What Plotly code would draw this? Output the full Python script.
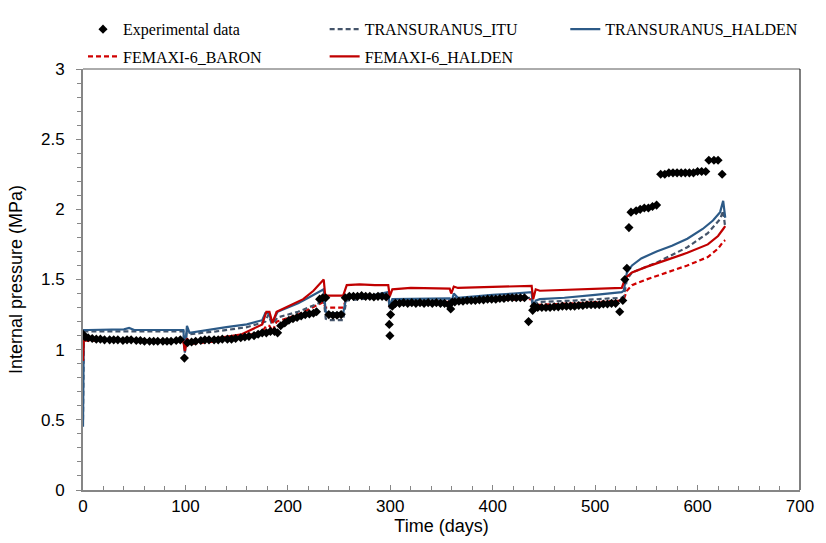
import plotly.graph_objects as go

# ---------------- data ----------------
exp_days = [0, 2, 5, 9, 13, 17, 21, 26, 30, 34, 39, 43, 47, 52, 56, 60, 65, 69, 73, 78, 82, 86, 91, 95,
            99, 102, 106, 110, 115, 119, 123, 128, 132, 136, 141, 145, 149, 154, 158, 162, 167, 171, 175,
            179, 183, 187, 190, 193, 197, 201, 205, 209, 213, 217, 221, 225, 228, 231, 234, 237, 240, 244,
            248, 252, 256, 260, 264, 268, 272, 276, 280, 284, 288, 292, 296, 299, 299.6, 300.3, 302,
            305, 309, 313, 317, 321, 325, 329, 333, 337, 341, 345, 349, 353, 357, 359, 360.5,
            363, 367, 371, 375, 379, 383, 387, 391, 395, 399, 403, 407, 411, 415, 419, 423, 427, 431, 435,
            439, 440.3, 441.5, 444, 448, 452, 456, 460, 464, 468, 472, 476, 480, 484, 488, 492, 496, 500,
            504, 508, 512, 516, 520, 524, 527, 529, 531, 533, 535,
            540, 544, 548, 552, 556, 560, 564,
            568, 572, 576, 580, 584, 588, 592, 596, 600, 604, 608, 611,
            616, 620, 624, 627]
exp_vals = [1.11, 1.09, 1.085, 1.08, 1.075, 1.075, 1.07, 1.07, 1.07, 1.07, 1.065, 1.07, 1.07, 1.065, 1.065,
            1.06, 1.06, 1.06, 1.06, 1.06, 1.06, 1.06, 1.065, 1.07,
            0.94, 1.05, 1.055, 1.06, 1.065, 1.07, 1.07, 1.07, 1.07, 1.075, 1.075, 1.075, 1.08, 1.085, 1.09,
            1.095, 1.10, 1.11, 1.12,
            1.12, 1.13, 1.13, 1.12, 1.17, 1.19, 1.21, 1.22, 1.23, 1.24, 1.25, 1.255, 1.26, 1.27, 1.36, 1.37,
            1.37, 1.25, 1.245,
            1.245, 1.25, 1.37, 1.38, 1.38, 1.38, 1.385, 1.38, 1.38, 1.375, 1.38, 1.38, 1.375, 1.18, 1.10,
            1.25, 1.31,
            1.33, 1.33, 1.335, 1.33, 1.335, 1.33, 1.335, 1.33, 1.335, 1.33, 1.335, 1.33, 1.33, 1.32, 1.29,
            1.34, 1.34, 1.345, 1.345, 1.35, 1.35, 1.35, 1.355, 1.355, 1.36, 1.36, 1.36, 1.365, 1.365, 1.37,
            1.37, 1.37, 1.37, 1.37,
            1.20, 1.28, 1.31, 1.30, 1.30, 1.30, 1.30, 1.30, 1.305, 1.305, 1.31, 1.31, 1.31, 1.31, 1.315,
            1.315, 1.32, 1.32,
            1.32, 1.32, 1.325, 1.325, 1.33, 1.33, 1.27, 1.35, 1.50, 1.58, 1.87,
            1.98, 1.99, 2.00, 2.01, 2.01, 2.02, 2.03,
            2.25, 2.25, 2.26, 2.26, 2.26, 2.26, 2.26, 2.26, 2.26, 2.27, 2.27, 2.27,
            2.35, 2.35, 2.35, 2.25]

itu_days = [0, 0.8, 20, 50, 95, 98, 99.5, 101.5, 104, 130, 160, 178, 181, 184, 186, 190, 210, 230, 235,
            237, 240, 254, 257, 270, 298, 299.5, 302, 330, 358, 359.5, 362, 366, 400, 438, 439.5, 442,
            446, 480, 526, 528, 531, 536, 560, 590, 610, 622, 625, 627]
itu_vals = [0.5, 1.13, 1.13, 1.13, 1.13, 1.13, 0.98, 1.15, 1.11, 1.13, 1.16, 1.20, 1.25, 1.19, 1.19, 1.23,
            1.27, 1.33, 1.36, 1.22, 1.21, 1.21, 1.35, 1.36, 1.38, 1.29, 1.345, 1.35, 1.35, 1.32, 1.38,
            1.35, 1.36, 1.37, 1.28, 1.33, 1.34, 1.35, 1.37, 1.38, 1.50, 1.55, 1.62, 1.73, 1.83, 1.93,
            1.99, 1.87]

tuh_days = [0, 0.8, 5, 20, 40, 45, 50, 70, 95, 98, 99.5, 101.5, 104, 120, 140, 160, 175, 178, 181, 184,
            186, 190, 200, 210, 220, 230, 235, 237, 240, 250, 254, 257, 270, 285, 298, 299.5, 302, 320,
            340, 358, 359.5, 362, 366, 380, 400, 420, 438, 439.5, 442, 446, 470, 500, 526, 528, 531, 536,
            545, 560, 575, 590, 605, 615, 622, 625, 627]
tuh_vals = [0.45, 1.14, 1.14, 1.14, 1.145, 1.155, 1.14, 1.14, 1.14, 1.14, 0.98, 1.17, 1.12, 1.14, 1.16,
            1.18, 1.21, 1.26, 1.26, 1.21, 1.21, 1.27, 1.30, 1.33, 1.37, 1.41, 1.43, 1.27, 1.26, 1.26,
            1.26, 1.37, 1.38, 1.39, 1.41, 1.30, 1.36, 1.36, 1.36, 1.365, 1.33, 1.40, 1.37, 1.38, 1.39,
            1.40, 1.41, 1.30, 1.35, 1.36, 1.37, 1.39, 1.41, 1.42, 1.55, 1.60, 1.65, 1.70, 1.74, 1.79,
            1.86, 1.92, 1.98, 2.06, 1.94]

fbaron_days = [0, 0.8, 30, 60, 95, 98, 99.5, 101.5, 104, 130, 155, 175, 179, 182, 185, 189, 210, 235,
               236.5, 240, 254, 257.5, 280, 298, 299.5, 302, 330, 358, 359.5, 362, 366, 400, 438, 439.5,
               442, 446, 480, 526, 528, 531, 536, 550, 570, 590, 610, 620, 625, 627]
fbaron_vals = [0.9, 1.065, 1.065, 1.06, 1.06, 1.06, 0.99, 1.07, 1.04, 1.06, 1.09, 1.13, 1.17, 1.17, 1.13,
               1.20, 1.25, 1.34, 1.30, 1.30, 1.30, 1.37, 1.375, 1.375, 1.30, 1.34, 1.34, 1.34, 1.32, 1.36,
               1.345, 1.35, 1.36, 1.27, 1.32, 1.32, 1.33, 1.35, 1.36, 1.42, 1.46, 1.50, 1.55, 1.60, 1.66,
               1.72, 1.77, 1.78, 1.76]

fhal_days = [0, 0.8, 5, 30, 60, 95, 98, 99.5, 101.5, 104, 130, 155, 175, 179, 182, 185, 189, 200, 215,
             225, 235, 236.5, 240, 254, 257.5, 270, 285, 298, 299.5, 302, 320, 340, 358, 359.5, 362, 366,
             400, 438, 439.5, 442, 446, 480, 526, 528, 531, 536, 550, 570, 590, 610, 620, 625, 627]
fhal_vals = [0.92, 1.07, 1.07, 1.07, 1.065, 1.065, 1.06, 0.99, 1.08, 1.05, 1.08, 1.11, 1.18, 1.27, 1.27,
             1.19, 1.27, 1.31, 1.36, 1.42, 1.50, 1.385, 1.385, 1.385, 1.46, 1.465, 1.46, 1.46, 1.38, 1.43,
             1.44, 1.435, 1.435, 1.40, 1.45, 1.44, 1.445, 1.455, 1.36, 1.43, 1.42, 1.43, 1.44, 1.48, 1.52,
             1.55, 1.59, 1.64, 1.69, 1.75, 1.81, 1.86, 1.88, 1.80]

x_ticks = [0, 100, 200, 300, 400, 500, 600, 700]
y_ticks = [0, 0.5, 1, 1.5, 2, 2.5, 3]
y_tick_text = ["0", "0.5", "1", "1.5", "2", "2.5", "3"]

# ---------------- figure ----------------
L, R, T, B = 83, 19, 56, 53
W, H = 826, 543
pw, ph = W - L - R, H - T - B

def px_x(p):
    return (p - L) / pw

def px_y(p):
    return 1 + (T - p) / ph

fig = go.Figure()

def add_line(x, y, name, color, dash, legend):
    fig.add_trace(go.Scatter(x=x, y=y, mode="lines", name=name, legend=legend,
                             line=dict(color=color, width=2.2, dash=dash)))

add_line(fbaron_days, fbaron_vals, "FEMAXI-6_BARON", "#d00000", "5px,3px", "legend2")
add_line(itu_days, itu_vals, "TRANSURANUS_ITU", "#44546a", "5px,3px", "legend3")
add_line(tuh_days, tuh_vals, "TRANSURANUS_HALDEN", "#2c5a87", "solid", "legend5")
add_line(fhal_days, fhal_vals, "FEMAXI-6_HALDEN", "#c00000", "solid", "legend4")
fig.add_trace(go.Scatter(x=exp_days, y=exp_vals, mode="markers", name="Experimental data",
                         legend="legend",
                         marker=dict(symbol="diamond", color="black", size=7)))

leg_font = dict(family="Liberation Serif, Times New Roman, serif", size=16, color="black")
row1, row2 = 15, 43

def leg(xpx, ypx):
    return dict(x=px_x(xpx), y=px_y(ypx), xanchor="left", yanchor="middle",
                bgcolor="rgba(0,0,0,0)", font=leg_font, borderwidth=0)

fig.update_layout(
    width=W, height=H,
    margin=dict(l=L, r=R, t=T, b=B),
    paper_bgcolor="white", plot_bgcolor="white",
    font=dict(family="Liberation Sans, Arial, sans-serif", size=17, color="black"),
    legend=leg(83, row1),
    legend2=leg(83, row2),
    legend3=leg(327, row1),
    legend4=leg(327, row2),
    legend5=leg(570, row1),
    xaxis=dict(range=[0, 700], tickvals=x_ticks, showgrid=False, zeroline=False,
               showline=True, linecolor="#868686", linewidth=2,
               ticks="inside", ticklen=5, tickcolor="#868686", tickwidth=1,
               minor=dict(dtick=20, ticks="inside", ticklen=4, tickcolor="#868686"),
               title=dict(text="Time (days)", standoff=0,
                          font=dict(family="Liberation Sans, Arial, sans-serif", size=18)),
               tickfont=dict(size=17)),
    yaxis=dict(range=[0, 3], tickvals=y_ticks, ticktext=y_tick_text, showgrid=False, zeroline=False,
               showline=True, linecolor="#868686", linewidth=2,
               ticks="outside", ticklen=5, tickcolor="#868686", tickwidth=1,
               ticklabelstandoff=8,
               minor=dict(dtick=0.1, ticks="outside", ticklen=4, tickcolor="#868686"),
               title=dict(text="Internal pressure (MPa)", standoff=14,
                          font=dict(family="Liberation Sans, Arial, sans-serif", size=18)),
               tickfont=dict(size=17)),
    showlegend=True,
)

fig.add_shape(type="line", xref="paper", yref="paper", x0=0, x1=1, y0=1, y1=1,
              line=dict(color="#595959", width=1))
fig.add_shape(type="line", xref="paper", yref="paper", x0=1, x1=1, y0=0, y1=1,
              line=dict(color="black", width=1))

fig.write_html("out.html")
